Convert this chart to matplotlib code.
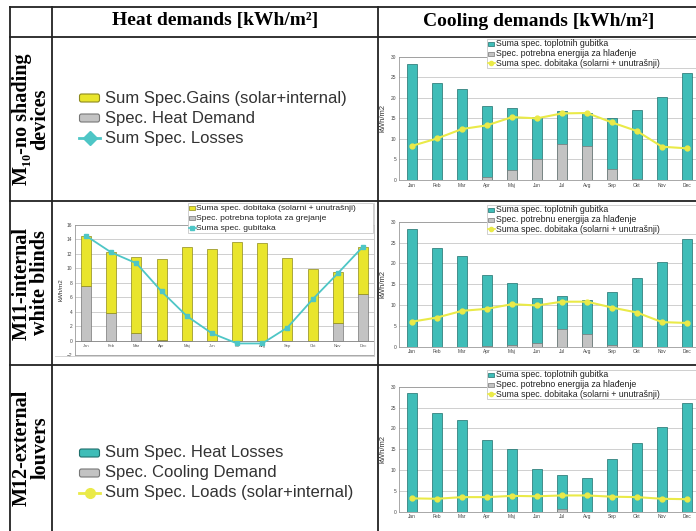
import matplotlib.pyplot as plt
from matplotlib.patches import Rectangle, FancyBboxPatch
import numpy as np

months = ["Jan", "Feb", "Mar", "Apr", "Maj", "Jun", "Jul", "Avg", "Sep", "Okt", "Nov", "Dec"]

# M11 heating chart (kWh/m2)
heat_demand = [7.5, 3.8, 1.1, 0.1, 0.0, 0.0, 0.0, 0.0, 0.0, 0.0, 2.5, 6.5]
heat_gains = [7.0, 8.5, 10.5, 11.2, 12.9, 12.7, 13.6, 13.5, 11.5, 9.9, 7.0, 6.5]
heat_losses = [14.5, 12.2, 10.7, 6.8, 3.4, 1.0, -0.4, -0.4, 1.8, 5.7, 9.3, 13.0]

# cooling charts (kWh/m2)
m10_losses = [28.3, 23.7, 22.1, 17.9, 17.4, 15.3, 16.8, 16.4, 15.2, 17.0, 20.3, 26.1]
m10_cooling = [0.0, 0.0, 0.1, 0.8, 2.4, 5.1, 8.8, 8.3, 2.6, 0.3, 0.0, 0.0]
m10_loads = [8.3, 10.1, 12.4, 13.3, 15.3, 15.0, 16.2, 16.3, 14.0, 11.9, 8.1, 7.7]

m11_losses = [28.3, 23.7, 21.8, 17.2, 15.3, 11.7, 12.2, 11.2, 13.1, 16.4, 20.3, 25.9]
m11_cooling = [0.0, 0.0, 0.0, 0.1, 0.3, 1.0, 4.2, 3.1, 0.4, 0.0, 0.0, 0.0]
m11_loads = [6.0, 7.0, 8.6, 9.1, 10.2, 9.9, 10.8, 10.8, 9.4, 8.2, 5.9, 5.7]

m12_losses = [28.4, 23.7, 22.0, 17.2, 15.0, 10.3, 8.7, 8.1, 12.7, 16.5, 20.3, 26.0]
m12_cooling = [0.0, 0.0, 0.0, 0.0, 0.0, 0.0, 0.6, 0.0, 0.0, 0.0, 0.0, 0.0]
m12_loads = [3.2, 3.1, 3.5, 3.5, 3.8, 3.7, 3.9, 3.9, 3.6, 3.5, 3.1, 3.0]

row_labels = ["M\u2081\u2080-no shading\ndevices", "M11-internal\nwhite blinds", "M12-external\nlouvers"]
headers = ["Heat demands [kWh/m\u00b2]", "Cooling demands [kWh/m\u00b2]"]

YEL = "#e9e52c"
YEL_EDGE = "#8e8a1c"
TEAL = "#3fbdb8"
TEAL_EDGE = "#1f6f6c"
GRAY = "#c3c3c3"
GRAY_EDGE = "#777777"
LINE_TEAL = "#4ec6c6"
LINE_YEL = "#eaea48"

W, H = 696, 531
fig = plt.figure(figsize=(W / 100, H / 100), dpi=100)
plt.rcParams["font.family"] = ["Liberation Sans", "DejaVu Sans"]


def px_axes(x0, y0, x1, y1, z=1):
    return fig.add_axes([x0 / W, 1 - y1 / H, (x1 - x0) / W, (y1 - y0) / H], zorder=z)


def style_chart(ax):
    for s in ax.spines.values():
        s.set_color("#9a9a9a")
        s.set_linewidth(0.6)
    ax.tick_params(length=0, labelsize=3.5, colors="#444444", pad=2)
    ax.grid(axis="y", color="#c8c8c8", lw=0.6)
    ax.set_axisbelow(True)


x = np.arange(12)

# heating chart, M11 row
ax = px_axes(75, 225, 374, 355)
ax.bar(x, heat_demand, width=0.4, color=GRAY, edgecolor=GRAY_EDGE, lw=0.5)
ax.bar(x, heat_gains, bottom=heat_demand, width=0.4, color=YEL, edgecolor=YEL_EDGE, lw=0.5)
ax.plot(x, heat_losses, color=LINE_TEAL, lw=1.3, marker="s", ms=3, zorder=5)
ax.axhline(0, color="#888888", lw=0.6)
ax.set_ylim(-2, 16)
ax.set_yticks(range(-2, 17, 2))
ax.set_xlim(-0.44, 11.44)
ax.set_xticks([])
for i, m in enumerate(months):
    ax.text(i, -0.75, m, fontsize=3, ha="center", va="center", color="#555555")
style_chart(ax)
ax.set_ylabel("kWh/m2", fontsize=4.5, labelpad=2, color="#333333")

# cooling charts
cool_rows = [
    (56.7, 180.0, m10_losses, m10_cooling, m10_loads),
    (221.7, 346.7, m11_losses, m11_cooling, m11_loads),
    (386.7, 511.7, m12_losses, m12_cooling, m12_loads),
]
for top, bot, losses, cooling, loads in cool_rows:
    ax = px_axes(399, top, 700, bot)
    ax.bar(x, losses, width=0.42, color=TEAL, edgecolor=TEAL_EDGE, lw=0.5)
    ax.bar(x, cooling, width=0.42, color=GRAY, edgecolor=GRAY_EDGE, lw=0.5)
    ax.plot(x, loads, color=LINE_YEL, lw=1.5, marker="o", ms=3.5, zorder=5)
    ax.set_ylim(0, 30)
    ax.set_yticks(range(0, 31, 5))
    ax.set_xlim(-0.52, 11.52)
    ax.set_xticks(x)
    ax.set_xticklabels(months, fontsize=3)
    style_chart(ax)
    ax.set_ylabel("kWh/m2", fontsize=5.5, labelpad=3, color="#333333")

# overlay in pixel coordinates: table, texts, legends
ov = fig.add_axes([0, 0, 1, 1], zorder=10)
ov.set_xlim(0, W)
ov.set_ylim(H, 0)
ov.axis("off")

lc = "#222222"
for yy in [7, 37, 201, 365]:
    ov.plot([10, W], [yy, yy], color=lc, lw=1.3)
for xx in [10, 52, 378]:
    ov.plot([xx, xx], [7, H], color=lc, lw=1.3)

serif = ["Liberation Serif", "DejaVu Serif"]
ov.text(215, 21, headers[0], ha="center", va="center", fontsize=14, fontweight="bold", family=serif)
ov.text(539, 21, headers[1], ha="center", va="center", fontsize=14, fontweight="bold", family=serif)
for lab, yc in zip(row_labels, [119, 283, 448]):
    ov.text(31, yc, lab, rotation=90, ha="center", va="center", fontsize=14.5, fontweight="bold",
            linespacing=0.9, multialignment="center", family=serif)

# frame of the embedded heat chart
ov.plot([374, 374], [203, 356], color="#cccccc", lw=0.6)
ov.plot([55, 374], [356, 356], color="#cccccc", lw=0.6)


def small_legend(x0, y0, x1, y1, items, fs):
    ov.add_patch(Rectangle((x0, y0), x1 - x0, y1 - y0, facecolor="white", edgecolor="#c8c8c8", lw=0.6))
    step = (y1 - y0) / 3
    for k, (kind, fc, ec, label) in enumerate(items):
        yy = y0 + step * (k + 0.5)
        if kind == "bar":
            ov.add_patch(Rectangle((x0 + 1, yy - 2), 6, 4, facecolor=fc, edgecolor=ec, lw=0.5))
        else:
            ov.plot([x0 + 0.5, x0 + 8], [yy, yy], color=fc, lw=1.2)
            ov.plot([x0 + 4.2], [yy], marker=ec, color=fc, ms=3)
        ov.text(x0 + 8.5, yy, label, fontsize=fs, va="center", ha="left", color="#222222")


small_legend(188, 203, 373, 233, [
    ("bar", YEL, YEL_EDGE, "Suma spec. dobitaka (solarni + unutrašnji)"),
    ("bar", GRAY, GRAY_EDGE, "Spec. potrebna toplota za grejanje"),
    ("line", LINE_TEAL, "s", "Suma spec. gubitaka"),
], 6.1)
cool_legend_labels = ["Spec. potrebna energija za hlađenje", "Spec. potrebnu energija za hlađenje",
                      "Spec. potrebno energija za hlađenje"]
for (top, bot, _, _, _), y0, lab in zip(cool_rows, [39, 205, 370], cool_legend_labels):
    small_legend(487, y0, 720, y0 + 29, [
        ("bar", TEAL, TEAL_EDGE, "Suma spec. toplotnih gubitka"),
        ("bar", GRAY, GRAY_EDGE, lab),
        ("line", LINE_YEL, "o", "Suma spec. dobitaka (solarni + unutrašnji)"),
    ], 6.3)


def big_legend(y_rows, items):
    for yy, (kind, fc, ec, label) in zip(y_rows, items):
        if kind == "bar":
            ov.add_patch(FancyBboxPatch((80, yy - 3.5), 19, 7, boxstyle="round,pad=0.5,rounding_size=2",
                                        facecolor=fc, edgecolor=ec, lw=0.8))
        else:
            ov.plot([79, 100], [yy, yy], color=fc, lw=2)
            ov.plot([89.5], [yy], marker=ec, color=fc, ms=7)
        ov.text(105, yy, label, fontsize=12, va="center", ha="left", color="#333333")


big_legend([98, 118, 138], [
    ("bar", YEL, YEL_EDGE, "Sum Spec.Gains (solar+internal)"),
    ("bar", GRAY, GRAY_EDGE, "Spec. Heat Demand"),
    ("line", LINE_TEAL, "D", "Sum Spec. Losses"),
])
big_legend([453, 473, 493], [
    ("bar", TEAL, TEAL_EDGE, "Sum Spec. Heat Losses"),
    ("bar", GRAY, GRAY_EDGE, "Spec. Cooling Demand"),
    ("line", LINE_YEL, "o", "Sum Spec. Loads (solar+internal)"),
])

plt.savefig("out.png", dpi=100)
